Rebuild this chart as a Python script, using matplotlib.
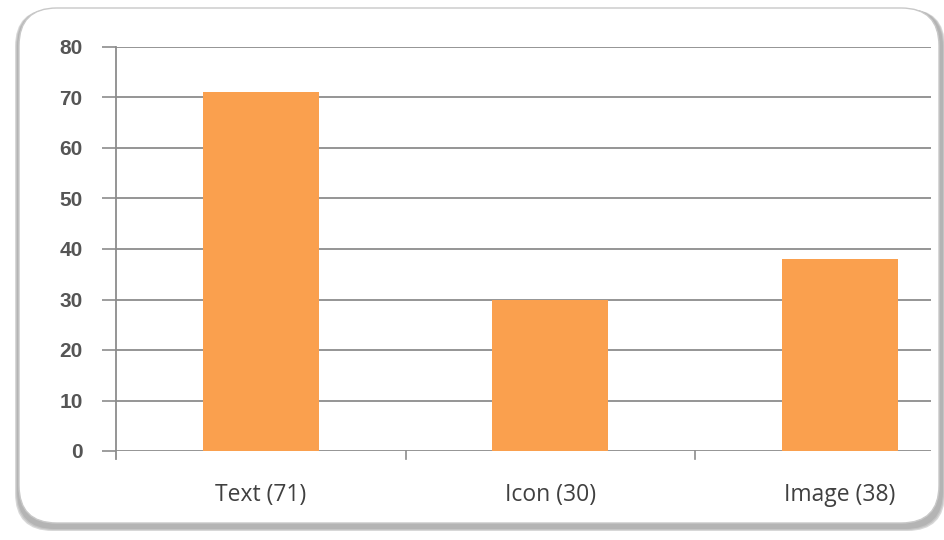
import matplotlib
matplotlib.use("Agg")
import matplotlib.pyplot as plt
from matplotlib.patches import FancyBboxPatch

categories = ["Text (71)", "Icon (30)", "Image (38)"]
values = [71, 30, 38]
yticks = [0, 10, 20, 30, 40, 50, 60, 70, 80]

fig = plt.figure(figsize=(9.44, 5.4), dpi=100)
fig.patch.set_facecolor("white")

# rounded frame with soft shadow
for i, c in enumerate(["#d8d8d8", "#c4c4c4", "#b4b4b4"]):
    off = 3 - i
    sh = FancyBboxPatch(((15 + i) / 944, 1 - (531 - i) / 540), (930 - 2 * i) / 944, (522 - i) / 540,
                        boxstyle="round,pad=0,rounding_size=0.04",
                        transform=fig.transFigure, facecolor=c,
                        edgecolor="none", zorder=0, mutation_aspect=944/540)
    fig.patches.append(sh)
frame = FancyBboxPatch((19/944, 1 - 523/540), 920/944, 515/540,
                       boxstyle="round,pad=0,rounding_size=0.04",
                       transform=fig.transFigure, facecolor="white",
                       edgecolor="#c8c8c8", linewidth=1.0, zorder=1,
                       mutation_aspect=944/540)
fig.patches.append(frame)

ax = fig.add_axes([116/944, 1 - 451/540, (931 - 116)/944, (451 - 47)/540])
ax.set_facecolor("none")
ax.set_zorder(2)

x = list(range(len(categories)))
ax.bar(x, values, width=0.4, color="#FAA04E", zorder=3)

ax.set_ylim(0, 80)
ax.set_xlim(-0.5, 2.315)
ax.set_yticks(yticks)
ax.set_yticklabels([str(v) for v in yticks], fontsize=15, color="#555555",
                   family="Liberation Sans", fontweight="bold")
for v in yticks:
    ax.axhline(v, color="#8c8c8c", linewidth=1.3, zorder=2)

ax.set_xticks(x)
ax.set_xticklabels(categories, fontsize=16.5, color="#404040", family="Open Sans")
ax.tick_params(axis="x", length=0, pad=23)
ax.tick_params(axis="y", length=10, width=1.2, color="#8c8c8c", pad=14)

# category separator ticks
for b in [0.5, 1.5]:
    ax.plot([b, b], [0, -1.6], color="#8c8c8c", linewidth=1.2, clip_on=False, zorder=3)

for s in ["top", "right", "bottom"]:
    ax.spines[s].set_visible(False)
ax.spines["left"].set_color("#8c8c8c")
ax.spines["left"].set_linewidth(1.3)
ax.spines["left"].set_bounds(-1.6, 80)

fig.savefig("out.png", dpi=100)
